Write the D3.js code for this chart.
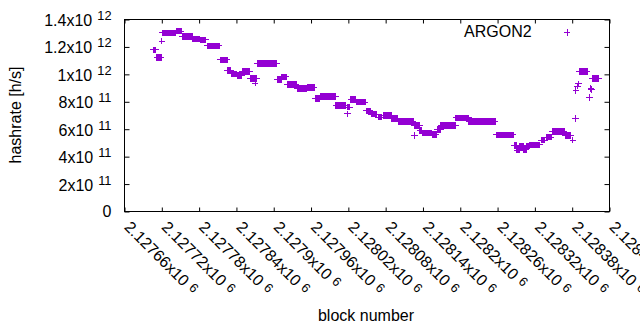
<!DOCTYPE html>
<html><head><meta charset="utf-8">
<script src="https://cdn.jsdelivr.net/npm/d3@7"></script>
<style>
body{margin:0;background:#fff}
svg{display:block}
text{font-family:"Liberation Sans",Arial,sans-serif;fill:#000}
</style>
</head><body>
<svg id="c" width="640" height="330"></svg>
<script>
// ---- data (runs of consecutive blocks sharing one hashrate estimate) ----
const runStart = [2127706,2127712,2127720,2127721,2127743,2127753,2127770,2127782,2127793,2127814,
  2127826,2127832,2127841,2127849,2127862,2127870,2127874,2127906,2127913,2127922,
  2127938,2127954,2127967,2127975,2128000,2128019,2128018,2128024,2128033,2128049,
  2128057,2128068,2128076,2128090,2128100,2128126,2128126,2128135,2128139,2128155,
  2128163,2128169,2128193,2128214,2128258,2128287,2128291,2128296,2128302,2128307,
  2128312,2128330,2128338,2128348,2128369,2128381,2128385,2128386,2128389,2128390,
  2128391,2128408,2128410,2128411,2128412];
const runEnd = [2127710,2127719,2127720,2127742,2127751,2127769,2127780,2127791,2127812,2127825,
  2127830,2127840,2127848,2127861,2127872,2127870,2127904,2127912,2127920,2127936,
  2127952,2127965,2127973,2127999,2128016,2128019,2128022,2128031,2128047,2128055,
  2128066,2128074,2128089,2128099,2128124,2128126,2128134,2128137,2128153,2128161,
  2128168,2128192,2128213,2128256,2128285,2128290,2128295,2128301,2128306,2128311,
  2128328,2128336,2128346,2128367,2128378,2128381,2128385,2128386,2128389,2128390,
  2128404,2128408,2128410,2128411,2128423];
const runValue = [1178e9,1121e9,1242e9,1302e9,1316e9,1274e9,1258e9,1251e9,1208e9,1105e9,
  1026e9,1003e9,990e9,1023e9,970e9,936e9,1079e9,963e9,982e9,925e9,
  895e9,902e9,822e9,839e9,771e9,711e9,761e9,815e9,798e9,733e9,
  710e9,688e9,698e9,680e9,655e9,552e9,626e9,591e9,573e9,560e9,
  596e9,625e9,683e9,655e9,559e9,481e9,448e9,474e9,452e9,478e9,
  486e9,521e9,543e9,583e9,554e9,521e9,676e9,882e9,915e9,931e9,
  1019e9,833e9,895e9,890e9,968e9];
const seriesName = "ARGON2";

const xTickValues = [2127660,2127720,2127780,2127840,2127900,2127960,2128020,
  2128080,2128140,2128200,2128260,2128320,2128380,2128440];
const xTickMantissa = ["2.12766","2.12772","2.12778","2.12784","2.1279","2.12796","2.12802",
  "2.12808","2.12814","2.1282","2.12826","2.12832","2.12838","2.12844"];
const xTickExponent = ["6","6","6","6","6","6","6","6","6","6","6","6","6","6"];
const yTickValues = [0,2e11,4e11,6e11,8e11,1e12,1.2e12,1.4e12];
const yTickMantissa = ["0","2","4","6","8","1","1.2","1.4"];
const yTickExponent = ["","11","11","11","11","12","12","12"];
const xTitle = "block number", yTitle = "hashrate [h/s]";

// ---- expand runs into one point per block ----
const points = [];
runStart.forEach((s, i) => {
  for (let b = s; b <= runEnd[i]; b++) points.push({b: b, v: runValue[i]});
});

const color = "#9400d3";
const svg = d3.select("#c");
const L = 124.5, R = 609.5, T = 19.5, B = 211.5;
const x = d3.scaleLinear().domain([2127660, 2128440]).range([L, R]);
const y = d3.scaleLinear().domain([0, 1.4e12]).range([B, T]);

// ticks (inward, mirrored)
function ticksOnly(g){ g.select(".domain").remove(); g.selectAll("line").attr("stroke","#000"); g.selectAll("text").remove(); }
svg.append("g").attr("transform",`translate(0,${B})`)
  .call(d3.axisBottom(x).tickValues(xTickValues).tickSize(-4).tickFormat("")).call(ticksOnly);
svg.append("g").attr("transform",`translate(0,${T})`)
  .call(d3.axisTop(x).tickValues(xTickValues).tickSize(-4).tickFormat("")).call(ticksOnly);
svg.append("g").attr("transform",`translate(${L},0)`)
  .call(d3.axisLeft(y).tickValues(yTickValues).tickSize(-5).tickFormat("")).call(ticksOnly);
svg.append("g").attr("transform",`translate(${R},0)`)
  .call(d3.axisRight(y).tickValues(yTickValues).tickSize(-5).tickFormat("")).call(ticksOnly);

svg.append("rect").attr("x",L).attr("y",T).attr("width",R-L).attr("height",B-T)
  .attr("fill","none").attr("stroke","#000").attr("stroke-width",1);

// y tick labels
yTickValues.forEach((v, i) => {
  const hasExp = yTickExponent[i] !== "";
  const t = svg.append("text").attr("x", 111.5)
    .attr("y", y(v) + (hasExp ? 6.5 : 5.5)).attr("text-anchor","end").style("font-size","16px");
  if (hasExp) {
    t.append("tspan").text(yTickMantissa[i] + "x10");
    t.append("tspan").attr("dx", 5).attr("dy", -6).style("font-size","12.8px").text(yTickExponent[i]);
  } else t.text(yTickMantissa[i]);
});

// x tick labels (rotated)
xTickValues.forEach((v, i) => {
  const t = svg.append("text").attr("transform", `translate(${x(v)-1},228) rotate(45)`)
    .attr("text-anchor","start").style("font-size","16px");
  t.append("tspan").text(xTickMantissa[i] + "x10");
  t.append("tspan").attr("dx", 5).attr("dy", -3).style("font-size","12.8px").text(xTickExponent[i]);
});

// titles
svg.append("text").attr("x", 366).attr("y", 320.5).attr("text-anchor","middle").style("font-size","16px").text(xTitle);
svg.append("text").attr("transform","translate(21,115) rotate(-90)").attr("text-anchor","middle").style("font-size","16px").text(yTitle);

// points
const h = 3.3;
const plus = (px, py) => `M${px-h},${py}H${px+h}M${px},${py-h}V${py+h}`;
svg.append("g").selectAll("path").data(points).join("path")
  .attr("d", d => plus(x(d.b), y(d.v)))
  .attr("stroke", color).attr("stroke-width", 1).attr("fill","none")
  .attr("shape-rendering","crispEdges");

// legend
svg.append("text").attr("x", 531.7).attr("y", 37.3).attr("text-anchor","end").style("font-size","16px").text(seriesName);
svg.append("path").attr("d", plus(567, 32.5)).attr("stroke", color).attr("stroke-width",1)
  .attr("fill","none").attr("shape-rendering","crispEdges");
</script>
</body></html>
